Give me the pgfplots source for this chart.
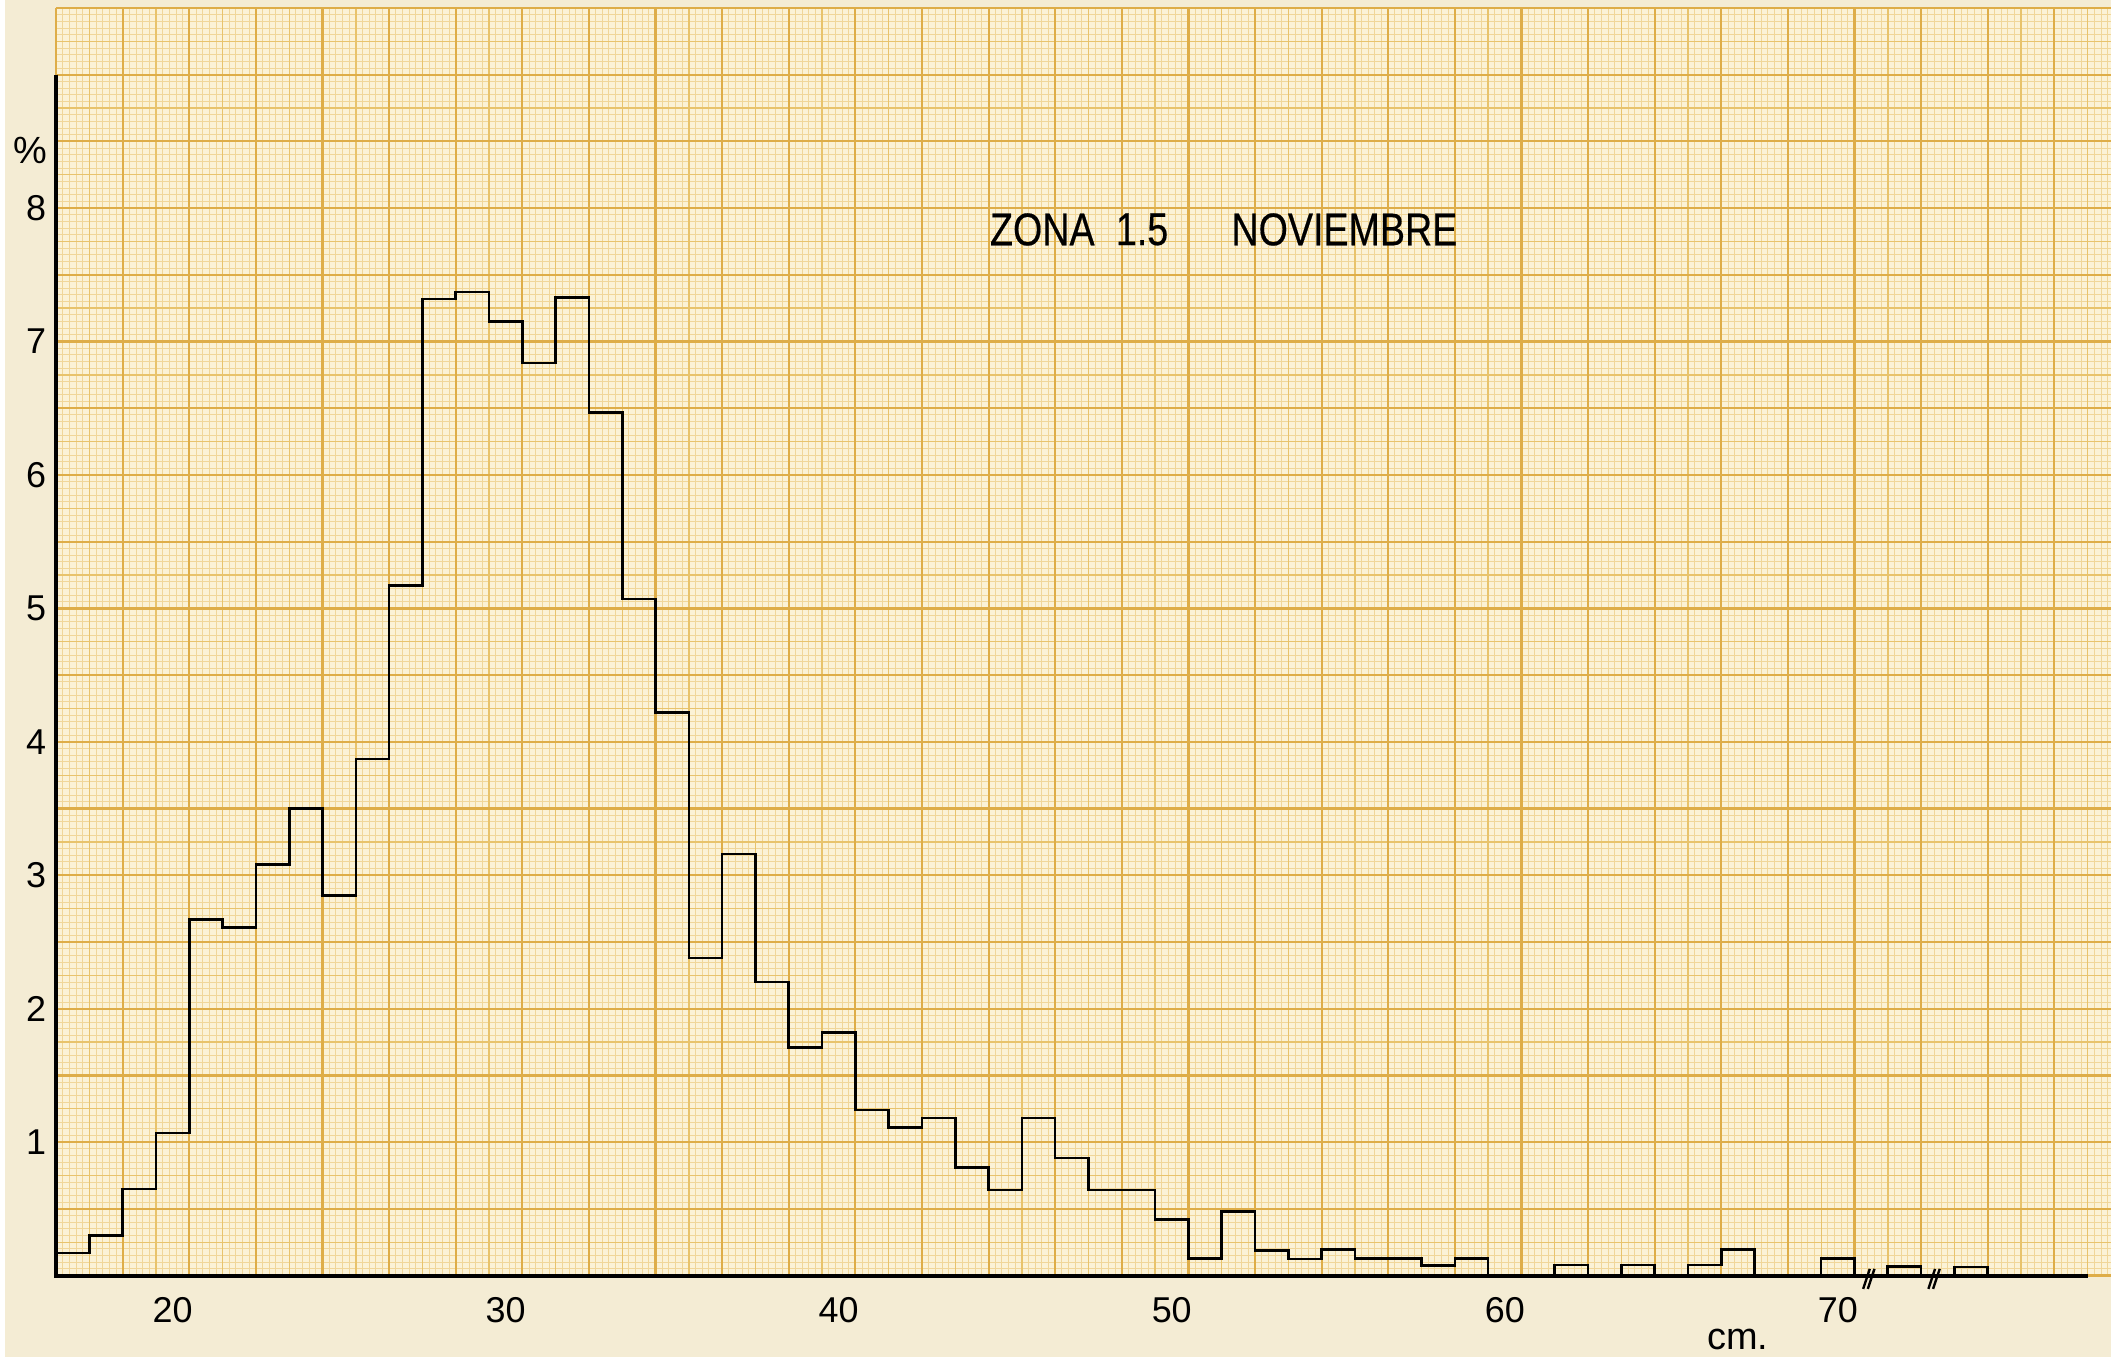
\documentclass[border=0pt]{standalone}
\usepackage{fontspec}
\setmainfont{Liberation Sans}
\newfontfamily\titlefont[FakeStretch=0.82,FakeBold=0.4]{Liberation Sans}
\usepackage{pgfplots}
\pgfplotsset{compat=1.18}
\definecolor{paper}{HTML}{F4ECD4}
\definecolor{cell}{HTML}{FBF2D6}
\definecolor{finel}{HTML}{F0D699}
\definecolor{medl}{HTML}{E8C36C}
\definecolor{heavyl}{HTML}{DEAD48}

% histogram: left bin edge (cm) and percentage
\pgfplotstableread{
x y
16.5 0.17
17.5 0.30
18.5 0.65
19.5 1.07
20.5 2.67
21.5 2.61
22.5 3.08
23.5 3.50
24.5 2.85
25.5 3.87
26.5 5.17
27.5 7.32
28.5 7.37
29.5 7.15
30.5 6.84
31.5 7.33
32.5 6.47
33.5 5.07
34.5 4.22
35.5 2.38
36.5 3.16
37.5 2.20
38.5 1.71
39.5 1.82
40.5 1.24
41.5 1.11
42.5 1.18
43.5 0.81
44.5 0.64
45.5 1.18
46.5 0.88
47.5 0.64
48.5 0.64
49.5 0.42
50.5 0.13
51.5 0.48
52.5 0.19
53.5 0.125
54.5 0.195
55.5 0.127
56.5 0.127
57.5 0.075
58.5 0.13
59.5 0
60.5 0
61.5 0.08
62.5 0
63.5 0.08
64.5 0
65.5 0.08
66.5 0.195
67.5 0
68.5 0
69.5 0.13
70.5 0
71.5 0.07
72.5 0
73.5 0.065
74.5 0
}\hist

\begin{document}
\begin{tikzpicture}
% paper and millimetre grid (axis box: 515pt x 317.7pt at origin)
\fill[paper] (-12.75pt,-20.5pt) rectangle (515pt,319.7pt);
\fill[cell] (0,0) rectangle (515pt,317.7pt);
\draw[finel, line width=0.22pt, xstep=1.6694pt, ystep=1.6721pt] (0,0) grid (515.01pt,317.71pt);
\draw[medl, line width=0.35pt, xstep=8.347pt, ystep=8.3605pt] (0,0) grid (515.01pt,317.71pt);
\draw[heavyl, line width=0.55pt, xstep=16.694pt, ystep=16.721pt] (0,0) grid (515.01pt,317.71pt);

\begin{axis}[
  scale only axis, width=515pt, height=317.7pt,
  xmin=16.5, xmax=78.2, ymin=0, ymax=9.5,
  axis line style={draw=none},
  major tick length=0pt,
  xtick={20,30,...,70}, ytick={1,...,8},
  /pgf/number format/assume math mode=true,
  ticklabel style={font=\fontsize{9}{10}\selectfont, inner sep=0pt},
  xticklabel style={anchor=north, yshift=-5.2pt},
  yticklabel style={anchor=east, xshift=-2.3pt},
  clip=false,
]
\draw[black, line width=1pt] (axis cs:16.5,9) -- (axis cs:16.5,0) -- (axis cs:77.5,0);
\addplot[const plot, black, line width=0.65pt] table[x=x, y=y] {\hist};
% axis break marks
\draw[black, line width=0.6pt] (axis cs:70.76,-0.10) -- (axis cs:70.96,0.05)
  (axis cs:70.9,-0.10) -- (axis cs:71.1,0.05);
\draw[black, line width=0.6pt] (axis cs:72.72,-0.10) -- (axis cs:72.92,0.05)
  (axis cs:72.86,-0.10) -- (axis cs:73.06,0.05);
\node[font=\fontsize{9.5}{10}\selectfont, anchor=center, xshift=-6.5pt] at (axis cs:16.5,8.43) {\%};
\node[font=\fontsize{9.5}{10}\selectfont] at (axis cs:67.0,-0.48) {cm.};
\node[font=\titlefont\fontsize{11.5}{12}\selectfont, anchor=west, inner sep=0pt] at (axis cs:44.52,7.84) {ZONA};
\node[font=\titlefont\fontsize{11.5}{12}\selectfont, anchor=west, inner sep=0pt] at (axis cs:48.3,7.84) {1.5};
\node[font=\titlefont\fontsize{11.5}{12}\selectfont, anchor=west, inner sep=0pt] at (axis cs:51.77,7.84) {NOVIEMBRE};
\end{axis}
\end{tikzpicture}
\end{document}
